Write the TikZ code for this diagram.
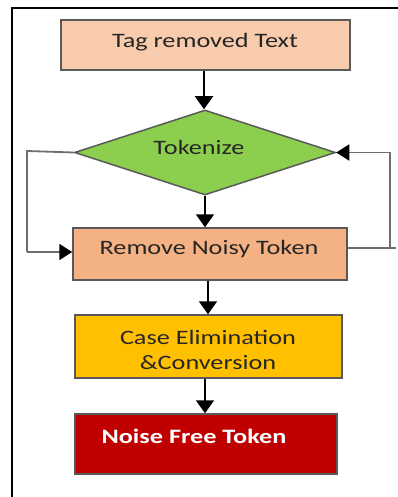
\documentclass[tikz,border=0pt]{standalone}
\usepackage{fontspec}
\usepackage{graphicx}
\setmainfont{Carlito}
\usetikzlibrary{shapes.geometric,arrows.meta}
\definecolor{peach}{HTML}{F8CBAD}
\definecolor{salmon}{HTML}{F4B183}
\definecolor{amber}{HTML}{FFC000}
\definecolor{darkred}{HTML}{C00000}
\definecolor{leaf}{HTML}{8CCF4F}
\definecolor{edge}{HTML}{595959}
\definecolor{loopgray}{HTML}{6E6E6E}
\newcommand{\wt}[1]{\scalebox{1.28}[1]{#1}}
\tikzset{
  box/.style={draw=edge, line width=1.5pt, rectangle, inner sep=0pt},
  txt/.style={font=\fontsize{20.5}{25}\selectfont, text=black!85, inner sep=0pt, align=center},
  arr/.style={line width=2pt, -{Triangle[width=18pt,length=13pt]}},
  loopline/.style={line width=1.8pt, draw=loopgray},
  looparr/.style={line width=1.8pt, draw=loopgray, -{Triangle[width=16pt,length=13pt,fill=black,color=black]}}
}
\begin{document}
\begin{tikzpicture}[x=1pt,y=-1pt]
\useasboundingbox (0,0) rectangle (398,497);
% frame
\draw[line width=1.2pt] (12,497) -- (12,8) -- (398,8);
% nodes
\node[box, fill=peach, minimum width=289, minimum height=50] (tag) at (205.5,45) {};
\node[txt] (tagt) at (205,42) {\wt{Tag removed Text}};
\node[draw=edge, line width=1.5pt, fill=leaf, diamond, inner sep=0pt, minimum width=261, minimum height=85] (dia) at (205,152.5) {};
\node[txt] (diat) at (199,147) {\wt{Tokenize}};
\node[box, fill=salmon, minimum width=274, minimum height=52] (rem) at (210,254) {};
\node[txt] (remt) at (209,249) {\wt{Remove Noisy Token}};
\node[box, fill=amber, minimum width=267, minimum height=63] (case) at (208.5,346.5) {};
\node[txt] (caset) at (208,349.5) {\wt{Case Elimination}\\\wt{\&Conversion}};
\node[box, fill=darkred, minimum width=262, minimum height=60] (noise) at (206,444) {};
\node[txt, text=white, font=\fontsize{20.5}{25}\selectfont\bfseries] (noiset) at (194,436) {\wt{Noise Free Token}};
% arrow columns
\coordinate (c1) at (204,0);
\coordinate (c2) at (208,0);
\coordinate (c3) at (205,0);
% straight arrows
\draw[arr] (tag.south -| c1) -- (dia.north -| c1);
\draw[arr] (dia.south) -- (dia.south |- rem.north);
\draw[arr] (rem.south -| c2) -- (case.north -| c2);
\draw[arr] (case.south -| c3) -- (noise.north -| c3);
% left loop
\coordinate (l1) at (27,151);
\coordinate (l2) at (27,252);
\draw[loopline] (dia.west) -- (l1) -- (l2);
\draw[looparr] (l2) -- (rem.west |- l2);
% right loop
\coordinate (r1) at (390,248);
\coordinate (r2) at (396,248);
\coordinate (r3) at (390,152.5);
\draw[loopline] (rem.east |- r1) -- (r2);
\draw[loopline] (r1) -- (r3);
\draw[looparr] (r3) -- (dia.east);
\end{tikzpicture}
\end{document}
